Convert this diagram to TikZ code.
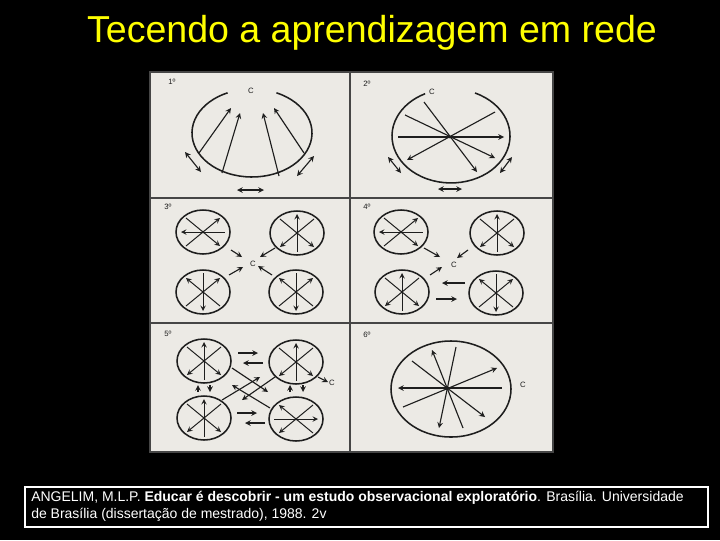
\documentclass[tikz,border=0pt]{standalone}
\usepackage{fontspec}
\setmainfont{Liberation Sans}
\usetikzlibrary{arrows}
\definecolor{titleyellow}{RGB}{255,255,0}
\definecolor{paper}{RGB}{236,234,229}
\definecolor{ink}{RGB}{30,30,30}
\definecolor{edge}{RGB}{70,70,70}
\tikzstyle{frame} = [draw=edge, line width=1.2pt]
\tikzstyle{ring} = [draw=ink, line width=1.1pt]
\tikzstyle{spoke} = [draw=ink, line width=0.7pt, >=stealth]
\tikzstyle{link} = [draw=ink, line width=0.8pt, >=stealth]
\tikzstyle{tag} = [font=\fontsize{5.5}{6}\selectfont, text=ink, inner sep=0pt]
\tikzstyle{caption} = [font=\fontsize{9.95}{12}\selectfont, text=white, align=left, inner sep=0pt]
% small ring with a horizontal spoke: x, y, tips (horizontal, rising, falling)
\newcommand{\hcell}[5]{%
  \draw[ring] (#1,#2) ellipse (27 and 22);
  \draw[spoke,#3] (#1-22,#2) -- (#1+22,#2);
  \draw[spoke,#4] (#1-17,#2+14) -- (#1+17,#2-14);
  \draw[spoke,#5] (#1-17,#2-14) -- (#1+17,#2+14);
  \fill[ink] (#1,#2) circle (1.3);
}
% small ring with a vertical spoke: x, y, tips (vertical, rising, falling)
\newcommand{\vcell}[5]{%
  \draw[ring] (#1,#2) ellipse (27 and 22);
  \draw[spoke,#3] (#1,#2-19) -- (#1,#2+19);
  \draw[spoke,#4] (#1-17,#2+14) -- (#1+17,#2-14);
  \draw[spoke,#5] (#1-17,#2-14) -- (#1+17,#2+14);
  \fill[ink] (#1,#2) circle (1.3);
}
\begin{document}
\begin{tikzpicture}[x=0.025cm, y=-0.025cm]
\useasboundingbox (0,0) rectangle (720,540);
\fill[black] (0,0) rectangle (720,540);
%titulo
\node[font=\fontsize{26.7}{30}\selectfont, text=titleyellow] (title) at (372,33) {Tecendo a aprendizagem em rede};
%quadro
\fill[paper] (150,72) rectangle (553,452);
\draw[frame] (150,72) rectangle (553,452);
\draw[frame] (350,72) -- (350,452);
\draw[frame] (150,198) -- (553,198);
\draw[frame] (150,323) -- (553,323);
%1
\node[tag] (n1) at (172,82) {1º};
\node[tag] (c1) at (251,91) {C};
\draw[ring] (276.4,92.8) arc[start angle=-66, end angle=246, x radius=60, y radius=44];
\draw[link,->] (199,153) -- (231,108);
\draw[link,->] (222,173) -- (240,113);
\draw[link,->] (279,176) -- (263,113);
\draw[link,->] (304,153) -- (274,108);
\draw[link,<->] (185,152) -- (201,172);
\draw[link,<->] (237,190) -- (264,190);
\draw[link,<->] (314,156) -- (297,176);
%2
\node[tag] (n2) at (367,84) {2º};
\node[tag] (c2) at (432,92) {C};
\draw[ring] (475,93) arc[start angle=-66, end angle=244, x radius=59, y radius=47];
\draw[link,->] (424,102) -- (477,172);
\draw[link,->] (405,115) -- (495,158);
\draw[link,->] (398,137) -- (504,137);
\draw[link,->] (495,112) -- (407,160);
\fill[ink] (450,137) circle (1.6);
\draw[link,<->] (388,157) -- (401,173);
\draw[link,<->] (438,189) -- (462,189);
\draw[link,<->] (512,157) -- (500,173);
%3
\node[tag] (n3) at (168,207) {3º};
\node[tag] (c3) at (253,264) {C};
\hcell{203}{232}{<-}{->}{->}
\vcell{297}{233}{<-}{<-}{->}
\vcell{203}{292}{->}{->}{<-}
\vcell{296}{292}{->}{->}{<-}
\draw[link,->] (231,250) -- (242,257);
\draw[link,->] (275,248) -- (260,257);
\draw[link,->] (229,275) -- (243,267);
\draw[link,->] (272,275) -- (258,266);
%4
\node[tag] (n4) at (367,207) {4º};
\node[tag] (c4) at (454,265) {C};
\hcell{401}{232}{<-}{->}{->}
\vcell{497}{233}{<-}{<-}{->}
\vcell{402}{292}{<-}{<-}{->}
\vcell{496}{293}{->}{->}{<-}
\draw[link,->] (424,248) -- (440,257);
\draw[link,->] (468,250) -- (457,258);
\draw[link,->] (430,275) -- (442,267);
\draw[link,->] (465,283) -- (442,283);
\draw[link,->] (436,299) -- (457,299);
%5
\node[tag] (n5) at (168,334) {5º};
\node[tag] (c5) at (332,383) {C};
\vcell{204}{361}{<-}{<-}{->}
\vcell{296}{362}{<-}{<-}{->}
\vcell{204}{418}{<-}{<-}{->}
\hcell{296}{419}{->}{<-}{<-}
\draw[link,->] (318,377) -- (328,382);
\draw[link,->] (238,353) -- (258,353);
\draw[link,->] (263,363) -- (243,363);
\draw[link,->] (237,413) -- (257,413);
\draw[link,->] (265,423) -- (245,423);
\draw[link,->] (198,392) -- (198,385);
\draw[link,->] (210,385) -- (210,392);
\draw[link,->] (290,392) -- (290,385);
\draw[link,->] (303,385) -- (303,392);
\draw[link,->] (232,368) -- (268,392);
\draw[link,->] (222,400) -- (260,377);
\draw[link,->] (275,377) -- (242,400);
\draw[link,->] (270,408) -- (232,385);
%6
\node[tag] (n6) at (367,335) {6º};
\node[tag] (c6) at (523,385) {C};
\draw[ring] (451,389) ellipse (60 and 48);
\draw[link,<-] (398,388) -- (502,388);
\draw[link,->] (403,407) -- (497,368);
\draw[link,->] (412,361) -- (485,417);
\draw[link,<-] (432,350) -- (463,428);
\draw[link,->] (456,347) -- (439,428);
\fill[ink] (447,388) circle (2);
%referencia
\draw[white, line width=0.8pt] (25,487) rectangle (708,527);
\node[caption, anchor=north west] (ref) at (31,491) {ANGELIM, M.L.P. \textbf{Educar é descobrir - um estudo observacional exploratório}. Brasília. Universidade\\de Brasília (dissertação de mestrado), 1988. 2v};
\end{tikzpicture}
\end{document}
